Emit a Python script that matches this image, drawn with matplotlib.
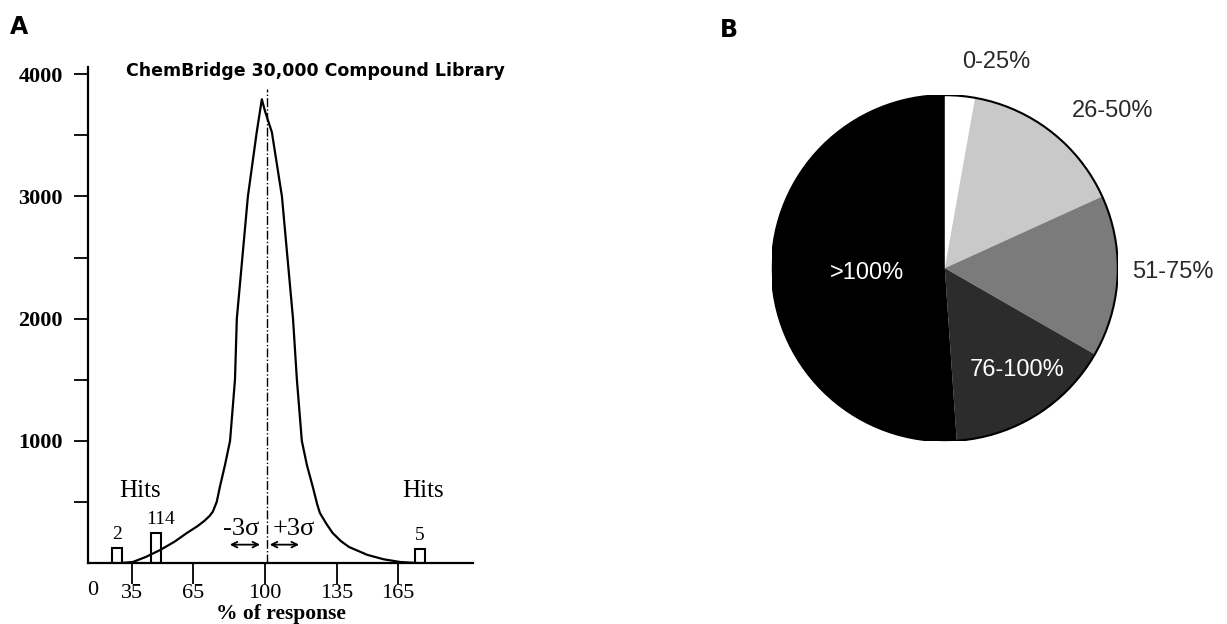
import numpy as np
import matplotlib
matplotlib.use("Agg")
import matplotlib.pyplot as plt

# panel A: response distribution
resp_x = [30, 35.6, 42, 49, 56, 62, 67, 70.5, 73, 74.6, 76.5, 78, 80.5, 83, 85.4,
          86.3, 91.7, 96, 98.5, 100, 103.4, 108.3, 113.7, 115.6, 118, 120.5,
          123.4, 125.5, 126.8, 130, 133, 137, 141, 150, 158, 166, 174]
resp_y = [0, 8, 50, 107, 175, 246, 300, 345, 385, 420, 500, 620, 800, 1000, 1500,
          2000, 3000, 3525, 3795, 3700, 3525, 3000, 2000, 1500, 1000, 800,
          620, 480, 410, 320, 246, 180, 131, 66, 30, 8, 0]

hit_x = [28, 47, 175.7]
hit_heights = [120, 245, 115]
hit_counts = ["2", "114", "5"]

x_ticks = [35, 65, 100, 135, 165]
mean_line = 101

# panel B: distribution of hits
pie_labels = ["0-25%", "26-50%", "51-75%", "76-100%", ">100%"]
pie_values = [2.8, 15.4, 15.1, 15.6, 51.1]
pie_colors = ["#ffffff", "#c9c9c9", "#7b7b7b", "#2c2c2c", "#000000"]
pie_text_colors = ["#2a2a2a", "#2a2a2a", "#2a2a2a", "#ffffff", "#ffffff"]

serif = "Liberation Serif"

fig = plt.figure(figsize=(12.27, 6.24), dpi=100)

ax = fig.add_axes([0.0717, 0.0978, 0.3138, 0.795])
ax.bar(hit_x, hit_heights, width=4.8, facecolor="white", edgecolor="black",
       linewidth=1.5, zorder=1)
ax.plot(resp_x, resp_y, color="black", linewidth=1.6, zorder=2)
ax.vlines(mean_line, 0, 3880, colors="black", linestyles="dashdot", linewidth=1.0)

for x, h, c in zip(hit_x, hit_heights, hit_counts):
    ax.text(x + (2 if c == "114" else 0), h + 40, c, ha="center", va="bottom",
            fontsize=14, family=serif)
ax.text(39, 590, "Hits", ha="center", va="center", fontsize=18, family=serif)
ax.text(177, 590, "Hits", ha="center", va="center", fontsize=18, family=serif)
ax.text(88.5, 275, "-3σ", ha="center", va="center", fontsize=19, family=serif)
ax.text(114, 275, "+3σ", ha="center", va="center", fontsize=19, family=serif)
ax.annotate("", xy=(81.5, 150), xytext=(99, 150),
            arrowprops=dict(arrowstyle="<->", lw=1.3, color="black"))
ax.annotate("", xy=(101, 150), xytext=(118, 150),
            arrowprops=dict(arrowstyle="<->", lw=1.3, color="black"))

ax.set_xlim(13.7, 201.5)
ax.set_ylim(0, 4060)
ax.spines["top"].set_visible(False)
ax.spines["right"].set_visible(False)
ax.spines["left"].set_linewidth(1.6)
ax.spines["bottom"].set_linewidth(1.6)
ax.set_xticks(x_ticks)
ax.set_xticklabels([str(t) for t in x_ticks], fontsize=16, family=serif)
ax.tick_params(axis="x", direction="out", length=15, width=1.3, pad=0)
ax.set_yticks([1000, 2000, 3000, 4000])
ax.set_yticklabels(["1000", "2000", "3000", "4000"], fontsize=16,
                   family=serif, fontweight="bold")
ax.set_yticks([500, 1500, 2500, 3500], minor=True)
ax.tick_params(axis="y", which="both", direction="out", length=10, width=1.3, pad=8)
ax.text(16, -0.056, "0", transform=ax.get_xaxis_transform(), ha="center",
        va="center", fontsize=16, family=serif)
ax.set_xlabel("% of response", fontsize=15.5, family=serif, fontweight="bold",
              labelpad=1)
ax.text(0.59, 4025, "ChemBridge 30,000 Compound Library",
        transform=ax.get_yaxis_transform(), ha="center", va="center",
        fontsize=12.5, fontweight="bold")

fig.text(0.008, 0.957, "A", fontsize=17, fontweight="bold", va="center")
fig.text(0.587, 0.952, "B", fontsize=17, fontweight="bold", va="center")

# pie
pax = fig.add_axes([0.629, 0.293, 0.282, 0.5545])
wedges, _ = pax.pie(pie_values, colors=pie_colors, startangle=90,
                    counterclock=False, radius=1.0,
                    wedgeprops=dict(linewidth=0))
outline = plt.Circle((0, 0), 1.0, fill=False, edgecolor="black", linewidth=1.5)
pax.add_patch(outline)
pax.set_xlim(-1, 1)
pax.set_ylim(-1, 1)
pax.set_aspect("equal")
pax.axis("off")

label_pos = [(0.30, 1.19), (0.97, 0.91), (1.32, -0.02), (0.42, -0.59), (-0.45, -0.03)]
for lab, (lx, ly), tc in zip(pie_labels, label_pos, pie_text_colors):
    pax.text(lx, ly, lab, ha="center", va="center", fontsize=17,
             color=tc, family="Liberation Sans", clip_on=False)

fig.savefig("out.png", dpi=100)
